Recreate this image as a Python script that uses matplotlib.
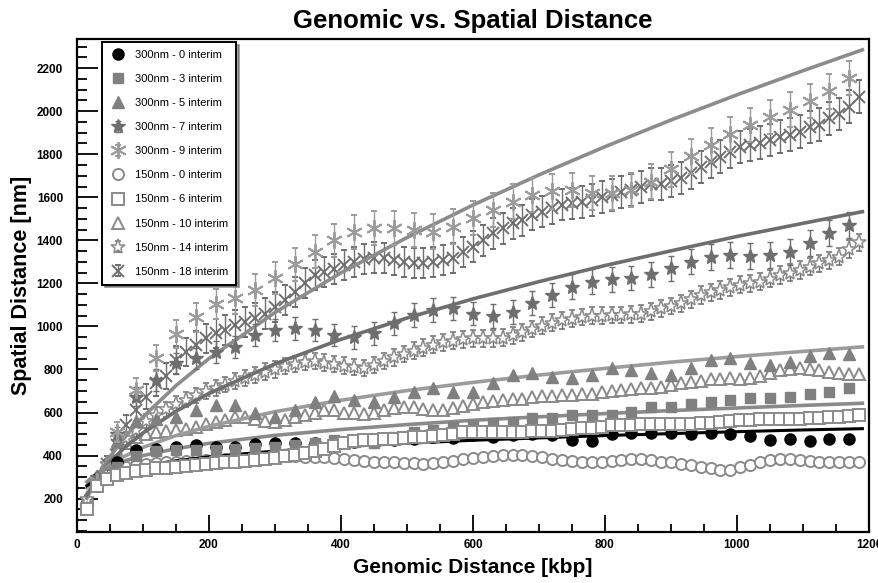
import numpy as np
import matplotlib
matplotlib.use("Agg")
import matplotlib.pyplot as plt
from matplotlib.ticker import MultipleLocator

plt.rcParams["font.family"] = ["Liberation Sans", "DejaVu Sans"]

# ------------------------------------------------------------
# data
# ------------------------------------------------------------
x300 = np.arange(30, 1171, 30)      # 300nm bins
x150 = np.arange(15, 1186, 15)      # 150nm bins

nm300_0 = [290, 370, 425, 430, 440, 448, 440, 442, 452, 458,
           460, 460, 456, 462, 468, 472, 478, 484, 480, 494,
           488, 494, 500, 495, 471, 468, 500, 503, 503, 503,
           499, 503, 499, 489, 471, 475, 468, 476, 477]
nm300_3 = [270, 345, 400, 420, 424, 424, 426, 430, 435, 440,
           448, 457, 471, 463, 457, 487, 510, 518, 533, 541,
           550, 556, 573, 573, 588, 588, 588, 603, 627, 627,
           639, 650, 658, 666, 666, 673, 685, 696, 713]
nm300_5 = [300, 470, 560, 570, 580, 611, 634, 634, 597, 580,
           611, 650, 676, 658, 650, 674, 697, 713, 697, 697,
           736, 774, 783, 766, 759, 774, 805, 797, 783, 774,
           809, 842, 852, 828, 820, 835, 861, 877, 871]
nm300_7 = [300, 500, 673, 750, 828, 851, 880, 905, 960, 983,
           991, 983, 960, 949, 968, 1014, 1053, 1076, 1084, 1060,
           1047, 1068, 1110, 1146, 1185, 1207, 1218, 1225, 1243, 1271,
           1301, 1322, 1332, 1327, 1332, 1347, 1389, 1434, 1471]
err300_7 = [20, 35, 45, 50, 50, 50, 50, 50, 50, 50,
            52, 52, 52, 52, 52, 55, 55, 55, 55, 55,
            55, 55, 55, 55, 58, 58, 58, 58, 58, 58,
            58, 60, 60, 60, 60, 60, 60, 60, 62]
nm300_9 = [280, 510, 704, 853, 964, 1043, 1104, 1132, 1169, 1225,
           1288, 1348, 1400, 1440, 1456, 1456, 1448, 1440, 1464, 1503,
           1541, 1580, 1611, 1627, 1634, 1619, 1619, 1634, 1673, 1730,
           1790, 1844, 1895, 1937, 1973, 2007, 2046, 2092, 2154]
err300_9 = [25, 45, 55, 60, 65, 68, 70, 72, 74, 75,
            76, 77, 78, 78, 79, 80, 80, 80, 80, 80,
            80, 80, 80, 80, 80, 80, 80, 80, 80, 80,
            80, 80, 80, 80, 80, 80, 80, 80, 80]

nm150_0 = [190, 270, 310, 330, 345, 355, 360, 365, 370, 372,
           375, 378, 380, 382, 384, 386, 388, 390, 392, 394,
           396, 396, 395, 394, 392, 388, 384, 380, 376, 372,
           370, 368, 366, 364, 363, 365, 370, 376, 383, 390,
           395, 399, 402, 404, 402, 398, 392, 385, 380, 375,
           372, 370, 370, 374, 380, 385, 384, 378, 372, 368,
           362, 355, 348, 340, 334, 335, 345, 358, 372, 380,
           385, 384, 380, 376, 372, 370, 370, 370, 370]
nm150_6 = [150, 260, 290, 310, 320, 328, 334, 340, 344, 348,
           352, 356, 360, 364, 368, 372, 376, 380, 384, 390,
           396, 402, 410, 420, 430, 445, 460, 470, 472, 474,
           476, 478, 480, 484, 485, 490, 495, 502, 508, 510,
           510, 510, 510, 510, 510, 512, 512, 515, 518, 522,
           526, 530, 535, 540, 542, 544, 545, 546, 547, 548,
           549, 549, 550, 552, 555, 560, 564, 566, 568, 570,
           571, 572, 572, 574, 576, 578, 580, 584, 587]
err150_6 = [8] * 79
nm150_10 = [200, 300, 370, 420, 460, 485, 500, 510, 515, 520,
            525, 535, 545, 555, 565, 580, 580, 570, 560, 555,
            565, 580, 590, 600, 610, 610, 600, 598, 595, 600,
            610, 620, 626, 625, 618, 611, 612, 620, 630, 640,
            650, 655, 658, 662, 665, 670, 675, 678, 680, 682,
            685, 688, 696, 700, 705, 710, 712, 715, 719, 728,
            735, 740, 748, 755, 758, 760, 758, 760, 770, 785,
            797, 803, 805, 800, 797, 790, 785, 780, 778]
nm150_14 = [200, 290, 360, 420, 480, 520, 560, 590, 615, 640,
            660, 680, 700, 715, 730, 745, 760, 775, 790, 800,
            815, 825, 835, 838, 832, 824, 818, 812, 808, 822,
            840, 856, 872, 888, 902, 916, 926, 934, 940, 944,
            944, 944, 948, 958, 972, 988, 1004, 1018, 1028, 1036,
            1044, 1050, 1050, 1052, 1054, 1056, 1060, 1070, 1084, 1096,
            1107, 1126, 1146, 1158, 1169, 1181, 1193, 1200, 1207, 1222,
            1239, 1250, 1262, 1278, 1293, 1308, 1324, 1360, 1390]
err150_14 = [15, 20, 25, 30, 30, 32, 32, 34, 34, 35,
             35, 35, 36, 36, 36, 37, 37, 37, 38, 38,
             38, 38, 38, 38, 38, 38, 38, 38, 38, 38,
             38, 38, 38, 38, 38, 38, 38, 38, 38, 38,
             38, 38, 38, 38, 38, 38, 38, 38, 38, 38,
             38, 38, 38, 38, 38, 38, 38, 38, 38, 38,
             40, 40, 40, 40, 40, 40, 40, 40, 40, 40,
             40, 40, 40, 40, 40, 40, 40, 40, 40]
nm150_18 = [155, 260, 360, 450, 540, 610, 673, 735, 770, 843,
            882, 913, 944, 968, 983, 1006, 1021, 1037, 1060, 1091,
            1122, 1161, 1200, 1239, 1254, 1265, 1285, 1300, 1315, 1320,
            1316, 1308, 1300, 1293, 1293, 1300, 1308, 1316, 1347, 1370,
            1401, 1432, 1456, 1479, 1494, 1518, 1533, 1549, 1565, 1572,
            1580, 1587, 1603, 1611, 1626, 1634, 1649, 1660, 1660, 1675,
            1690, 1712, 1742, 1766, 1789, 1812, 1835, 1843, 1854, 1867,
            1882, 1890, 1905, 1926, 1937, 1967, 1987, 2021, 2068]
err150_18 = [20, 30, 40, 45, 50, 55, 58, 60, 62, 64,
             65, 66, 67, 68, 68, 69, 69, 70, 70, 70,
             70, 70, 70, 70, 70, 70, 70, 70, 70, 70,
             70, 70, 70, 70, 70, 70, 70, 70, 70, 72,
             72, 72, 72, 72, 72, 72, 72, 72, 72, 72,
             74, 74, 74, 74, 74, 74, 74, 74, 74, 74,
             75, 75, 75, 75, 75, 75, 75, 75, 75, 75,
             76, 76, 76, 76, 76, 76, 76, 76, 76]

# fitted curves (read at a few genomic distances)
x_fit = [15, 30, 50, 70, 100, 150, 200, 300, 400, 500, 600, 700, 800, 900, 1000, 1100, 1190]
fit_9 = [202, 297, 395, 476, 580, 725, 851, 1065, 1249, 1413, 1564, 1704, 1835, 1959, 2076, 2188, 2285]
fit_7 = [216, 295, 370, 431, 505, 606, 689, 826, 940, 1039, 1128, 1208, 1283, 1351, 1418, 1479, 1533]
fit_5 = [251, 308, 357, 394, 438, 493, 536, 604, 657, 702, 740, 774, 805, 834, 860, 884, 905]
fit_3 = [278, 318, 351, 374, 400, 432, 457, 494, 521, 544, 564, 580, 595, 609, 621, 633, 643]
fit_0 = [260, 290, 315, 333, 353, 376, 394, 421, 441, 457, 471, 482, 493, 502, 511, 519, 525]

# ------------------------------------------------------------
# figure
# ------------------------------------------------------------
fig = plt.figure(figsize=(8.79, 5.83), dpi=100)
ax = fig.add_axes([0.0876, 0.0875, 0.9010, 0.8455])

G_DARK = "#6e6e6e"
G_MID = "#808080"
G_LIGHT = "#9c9c9c"
G_OPEN = "#8a8a8a"

# fit lines
ax.plot(x_fit, fit_9, color="#8c8c8c", lw=2.6, zorder=3)
ax.plot(x_fit, fit_7, color=G_DARK, lw=2.6, zorder=3)
ax.plot(x_fit, fit_5, color=G_LIGHT, lw=2.6, zorder=3)
ax.plot(x_fit, fit_3, color=G_OPEN, lw=2.6, zorder=3)
ax.plot(x_fit, fit_0, color="black", lw=2.2, zorder=3)

# 150nm series
ax.plot(x150, nm150_0, ls="none", marker="o", ms=8, mfc="white", mec=G_OPEN, mew=1.4,
        label="150nm - 0 interim", zorder=2)
ax.errorbar(x150, nm150_6, yerr=err150_6, ls="none", marker="s", ms=8, mfc="white",
            mec=G_OPEN, mew=1.4, ecolor=G_OPEN, elinewidth=1, capsize=2,
            label="150nm - 6 interim", zorder=4)
ax.plot(x150, nm150_10, ls="none", marker="^", ms=9, mfc="white", mec=G_OPEN, mew=1.4,
        label="150nm - 10 interim", zorder=2)
ax.errorbar(x150, nm150_14, yerr=err150_14, ls="none", marker="*", ms=11, mfc="white",
            mec=G_OPEN, mew=1.1, ecolor=G_DARK, elinewidth=1, capsize=2,
            label="150nm - 14 interim", zorder=2)
ax.errorbar(x150, nm150_18, yerr=err150_18, ls="none", marker="x", ms=8, mec=G_DARK,
            mew=1.4, ecolor=G_DARK, elinewidth=1, capsize=2,
            label="150nm - 18 interim", zorder=2)

# 300nm series
ax.plot(x300, nm300_0, ls="none", marker="o", ms=8, color="black",
        label="300nm - 0 interim", zorder=3)
ax.plot(x300, nm300_3, ls="none", marker="s", ms=7.5, color=G_MID,
        label="300nm - 3 interim", zorder=3)
ax.plot(x300, nm300_5, ls="none", marker="^", ms=9, color=G_MID,
        label="300nm - 5 interim", zorder=3)
ax.errorbar(x300, nm300_7, yerr=err300_7, ls="none", marker="*", ms=10, color=G_DARK,
            ecolor=G_DARK, elinewidth=1, capsize=2, label="300nm - 7 interim", zorder=3)
ax.errorbar(x300, nm300_9, yerr=err300_9, ls="none", marker=(6, 2, 0), ms=12, color=G_LIGHT,
            mew=1.4, ecolor=G_LIGHT, elinewidth=1, capsize=2,
            label="300nm - 9 interim", zorder=3)

ax.set_xlim(0, 1200)
ax.set_ylim(45, 2335)
ax.xaxis.set_major_locator(MultipleLocator(200))
ax.xaxis.set_minor_locator(MultipleLocator(50))
ax.yaxis.set_major_locator(MultipleLocator(200))
ax.yaxis.set_minor_locator(MultipleLocator(50))
ax.tick_params(which="both", direction="in", top=False, right=False, width=1.3)
ax.tick_params(axis="x", which="major", length=12, labelsize=8.5, pad=5)
ax.tick_params(axis="x", which="minor", length=6)
ax.tick_params(axis="y", which="major", length=15, labelsize=8.5, pad=10)
ax.tick_params(axis="y", which="minor", length=7)
for lab in ax.get_xticklabels() + ax.get_yticklabels():
    lab.set_fontweight("bold")
for sp in ax.spines.values():
    sp.set_linewidth(1.6)

ax.set_title("Genomic vs. Spatial Distance", fontsize=18.5, fontweight="bold", pad=8)
ax.set_xlabel("Genomic Distance [kbp]", fontsize=15, fontweight="bold", labelpad=5)
ax.set_ylabel("Spatial Distance [nm]", fontsize=15.5, fontweight="bold", labelpad=3)

order = ["300nm - 0 interim", "300nm - 3 interim", "300nm - 5 interim",
         "300nm - 7 interim", "300nm - 9 interim", "150nm - 0 interim",
         "150nm - 6 interim", "150nm - 10 interim", "150nm - 14 interim",
         "150nm - 18 interim"]
handles, labels = ax.get_legend_handles_labels()
hmap = dict(zip(labels, handles))
leg = ax.legend([hmap[l] for l in order], order, loc="upper left",
                bbox_to_anchor=(0.0316, 0.994), fontsize=8, labelspacing=1.27,
                handletextpad=0.75, handlelength=1.5, borderpad=0.7,
                borderaxespad=0.0, frameon=True, fancybox=False, shadow=True,
                framealpha=1)
leg.get_frame().set_edgecolor("black")
leg.get_frame().set_linewidth(1.4)

fig.savefig("out.png", dpi=100)
